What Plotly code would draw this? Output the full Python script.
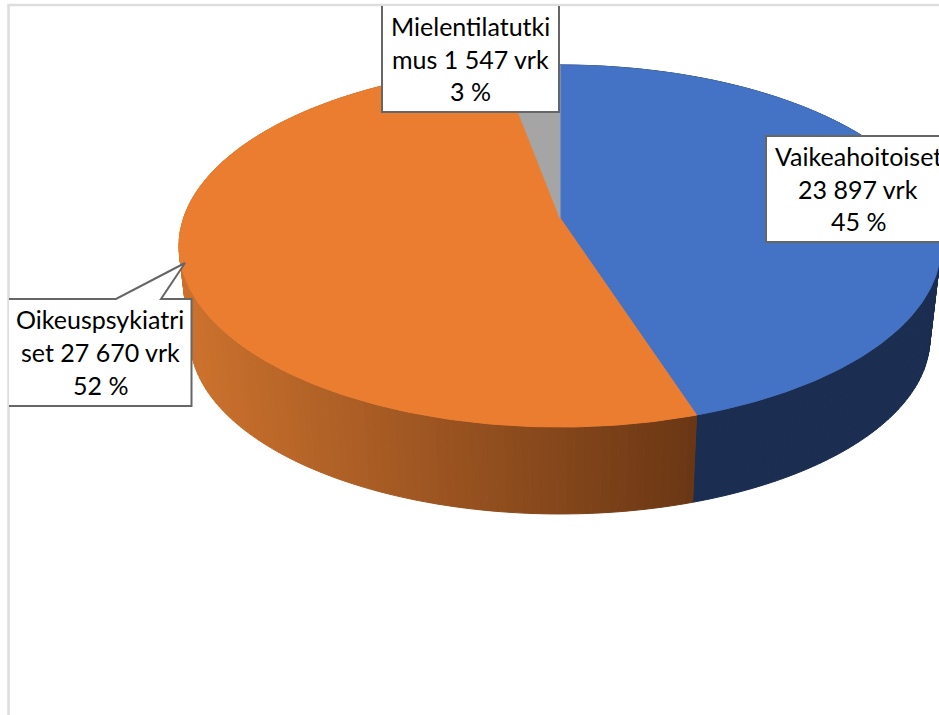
import numpy as np
import plotly.graph_objects as go

categories = ["Vaikeahoitoiset", "Oikeuspsykiatriset", "Mielentilatutkimus"]
values = [23897, 27670, 1547]
percent_labels = ["45 %", "52 %", "3 %"]
label_lines = [
    ["Vaikeahoitoiset", "23 897 vrk", "45 %"],
    ["Oikeuspsykiatri", "set 27 670 vrk", "52 %"],
    ["Mielentilatutki", "mus 1 547 vrk", "3 %"],
]
top_colors = ["#4472C4", "#EB7D31", "#A5A5A5"]

W, H = 939, 715
FONT = "Lato"
FS = 25
CX, CY = 560, 218      # apex of the top face
RX, RY, K = 376.4, 176.7, 0.1547  # perspective disc
SCALE_LOW, DROP = 0.971, 93       # bottom face


def project(theta, scale=1.0, drop=0.0):
    u, v = np.sin(theta), np.cos(theta)
    w = 1 + K * v
    return CX + scale * RX * u / w, CY + drop + scale * RY * (-v) / w


fracs = np.array(values) / sum(values)
edges = np.concatenate([[0], np.cumsum(fracs)]) * 2 * np.pi

fig = go.Figure()


def poly(x, y, color):
    fig.add_trace(go.Scatter(x=x, y=y, mode="lines", fill="toself", fillcolor=color,
                             line=dict(color=color, width=1), hoverinfo="skip", showlegend=False))


def wall_color(i, x):
    if i == 0:
        return "#1B2D50"
    if i == 2:
        return "#63636B"
    t = np.clip((x - 190) / (695 - 190), 0, 1)
    a, b = (203, 113, 45), (106, 55, 20)
    return "rgb(%d,%d,%d)" % tuple(round(a[c] + (b[c] - a[c]) * t) for c in range(3))


# side walls
for i in range(len(values)):
    n = max(2, int((edges[i + 1] - edges[i]) / 0.02))
    th = np.linspace(edges[i], edges[i + 1], n + 1)
    for a, b in zip(th[:-1], th[1:]):
        x0, y0 = project(a)
        x1, y1 = project(b)
        x2, y2 = project(b, SCALE_LOW, DROP)
        x3, y3 = project(a, SCALE_LOW, DROP)
        poly([x0, x1, x2, x3, x0], [y0, y1, y2, y3, y0], wall_color(i, (x0 + x1) / 2))

# top face
for i in range(len(values)):
    th = np.linspace(edges[i], edges[i + 1], 240)
    ex, ey = project(th)
    poly(np.concatenate([[CX], ex, [CX]]), np.concatenate([[CY], ey, [CY]]), top_colors[i])

GREY = "#666666"
FRAME = "#DDDDDD"
shapes = [
    dict(type="path", path=f"M 8.5 {H} L 8.5 5 L {W+5} 5", line=dict(color=FRAME, width=2.5)),
    # Vaikeahoitoiset box
    dict(type="path", path=f"M {W+5} 136 L 766 136 L 766 242 L {W+5} 242",
         fillcolor="white", line=dict(color=GREY, width=2)),
    # Oikeuspsykiatriset callout
    dict(type="path", path="M 9 299 L 116 299 L 185 263 L 161 299 L 191.5 299 L 191.5 406 L 9 406",
         fillcolor="white", line=dict(color=GREY, width=2)),
    # Mielentilatutkimus box
    dict(type="path", path="M 382 6 L 382 112 L 559 112 L 559 6",
         fillcolor="white", line=dict(color=GREY, width=2)),
]

label_pos = [(858, [156, 189, 221]), (100, [319, 352, 385]), (470, [26, 59, 91])]
annotations = []
for lines, (px, ys) in zip(label_lines, label_pos):
    for txt, py in zip(lines, ys):
        annotations.append(dict(x=px, y=py, xref="x", yref="y", text=txt, showarrow=False,
                                xanchor="center", yanchor="middle",
                                font=dict(family=FONT, size=FS, color="#000000")))

fig.update_layout(
    width=W, height=H, margin=dict(l=0, r=0, t=0, b=0),
    paper_bgcolor="white", plot_bgcolor="white", showlegend=False,
    xaxis=dict(range=[0, W], visible=False, fixedrange=True),
    yaxis=dict(range=[H, 0], visible=False, fixedrange=True),
    shapes=shapes, annotations=annotations,
)

fig.write_html("out.html", config={"displayModeBar": False},
               post_script="document.body.style.margin='0';document.body.style.overflow='hidden';")
